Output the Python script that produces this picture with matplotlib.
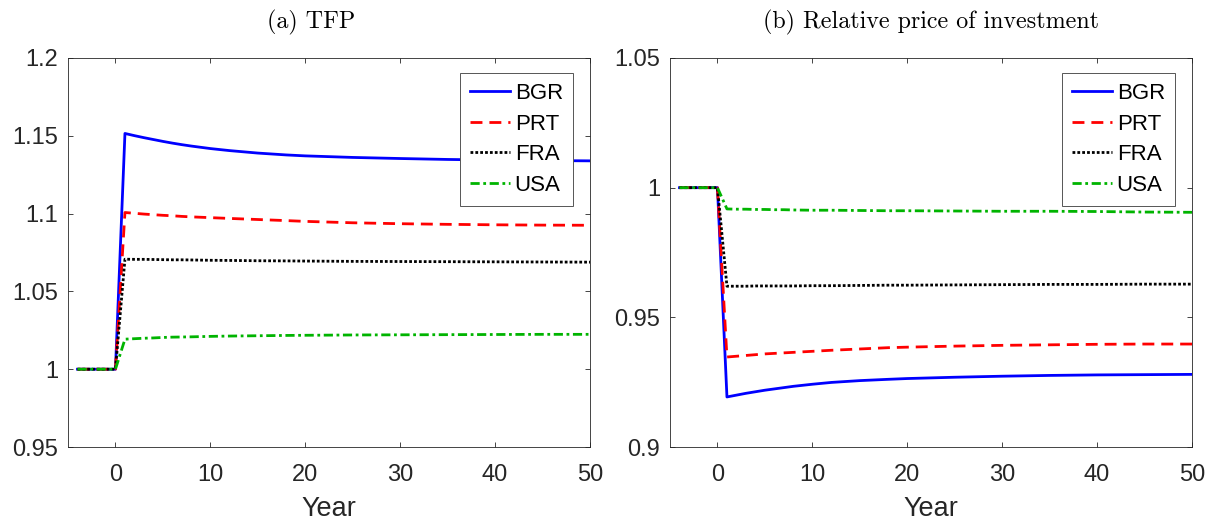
import matplotlib
matplotlib.use("Agg")
import matplotlib.pyplot as plt

# years on the horizontal axis (shock hits in year 1)
years = [-4, -3, -2, -1, 0, 1, 2, 3, 4, 5, 6, 7, 8, 10, 12, 15, 18, 20, 25, 30, 35, 40, 45, 50]
pre = [1.0, 1.0, 1.0, 1.0, 1.0]

# (a) TFP
tfp_bgr = pre + [1.1515, 1.1501, 1.1488, 1.1476, 1.1464, 1.1453, 1.1443, 1.1434, 1.1418, 1.1405,
                 1.1389, 1.1377, 1.1371, 1.1361, 1.1354, 1.1348, 1.1344, 1.1341, 1.1339]
tfp_prt = pre + [1.1007, 1.1002, 1.0997, 1.0993, 1.0989, 1.0986, 1.0982, 1.0979, 1.0974, 1.0969,
                 1.0962, 1.0955, 1.0950, 1.0941, 1.0935, 1.0931, 1.0928, 1.0926, 1.0925]
tfp_fra = pre + [1.0707, 1.0706, 1.0706, 1.0705, 1.0704, 1.0703, 1.0703, 1.0702, 1.0700, 1.0699,
                 1.0697, 1.0696, 1.0695, 1.0693, 1.0692, 1.0691, 1.0690, 1.0689, 1.0688]
tfp_usa = pre + [1.0193, 1.0196, 1.0199, 1.0201, 1.0204, 1.0206, 1.0207, 1.0208, 1.0211, 1.0213,
                 1.0215, 1.0217, 1.0218, 1.0220, 1.0221, 1.0222, 1.0223, 1.0224, 1.0224]

# (b) relative price of investment
rpi_bgr = pre + [0.9193, 0.9200, 0.9207, 0.9213, 0.9219, 0.9224, 0.9229, 0.9234, 0.9242, 0.9249,
                 0.9256, 0.9261, 0.9264, 0.9269, 0.9273, 0.9276, 0.9278, 0.9279, 0.9280]
rpi_prt = pre + [0.9347, 0.9350, 0.9353, 0.9356, 0.9359, 0.9361, 0.9363, 0.9365, 0.9369, 0.9373,
                 0.9378, 0.9383, 0.9385, 0.9389, 0.9392, 0.9394, 0.9396, 0.9397, 0.9397]
rpi_fra = pre + [0.9620, 0.9620, 0.9620, 0.9621, 0.9621, 0.9621, 0.9621, 0.9621, 0.9622, 0.9622,
                 0.9623, 0.9624, 0.9624, 0.9625, 0.9626, 0.9627, 0.9627, 0.9628, 0.9628]
rpi_usa = pre + [0.9918, 0.9917, 0.9917, 0.9916, 0.9916, 0.9915, 0.9915, 0.9914, 0.9913, 0.9913,
                 0.9912, 0.9911, 0.9911, 0.9910, 0.9909, 0.9909, 0.9908, 0.9906, 0.9905]

countries = ["BGR", "PRT", "FRA", "USA"]
colors = ["#0000ff", "#ff0000", "#000000", "#00b400"]
dashes = [(), (4.3, 2.5), (1.0, 0.75), (3.3, 1.3, 1.0, 1.3)]

xticks = [0, 10, 20, 30, 40, 50]
yticks_a = [0.95, 1.0, 1.05, 1.1, 1.15, 1.2]
ytick_labels_a = ["0.95", "1", "1.05", "1.1", "1.15", "1.2"]
yticks_b = [0.9, 0.95, 1.0, 1.05]
ytick_labels_b = ["0.9", "0.95", "1", "1.05"]

plt.rcParams["font.family"] = ["Liberation Sans", "DejaVu Sans"]
axcol = "#262626"

fig = plt.figure(figsize=(12.16, 5.25), dpi=100)
ax1 = fig.add_axes([68 / 1216, 1 - 447 / 525, 522 / 1216, 389 / 525])
ax2 = fig.add_axes([670 / 1216, 1 - 447 / 525, 522 / 1216, 389 / 525])

panels = [
    (ax1, [tfp_bgr, tfp_prt, tfp_fra, tfp_usa], "(a) TFP", (0.95, 1.2), yticks_a, ytick_labels_a, 0.466),
    (ax2, [rpi_bgr, rpi_prt, rpi_fra, rpi_usa], "(b) Relative price of investment", (0.9, 1.05), yticks_b, ytick_labels_b, 0.5),
]

for ax, series, title, ylim, yt, ytl, tx in panels:
    for vals, name, c, d in zip(series, countries, colors, dashes):
        ln, = ax.plot(years, vals, color=c, lw=2.0, label=name)
        if d:
            ln.set_dashes(d)
    ax.set_xlim(-5, 50)
    ax.set_ylim(*ylim)
    ax.set_xticks(xticks)
    ax.set_xticklabels([str(t) for t in xticks])
    ax.set_yticks(yt)
    ax.set_yticklabels(ytl)
    ax.tick_params(direction="in", top=True, right=True, length=3.6, width=0.6,
                   colors=axcol, labelsize=17)
    ax.tick_params(axis="x", pad=12.5)
    ax.tick_params(axis="y", pad=7)
    for s in ax.spines.values():
        s.set_color(axcol)
        s.set_linewidth(0.6)
    ax.set_xlabel("Year", fontsize=19.5, color=axcol, labelpad=7)
    ax.set_title(title, fontsize=17.3, family="cmr10", x=tx, pad=21)
    leg = ax.legend(loc="upper right", bbox_to_anchor=(0.9674, 0.9614), borderaxespad=0,
                    fontsize=16, handlelength=1.8, handletextpad=0.2, labelspacing=0.43,
                    borderpad=0.45, fancybox=False, framealpha=1)
    leg.get_frame().set_edgecolor("#555555")
    leg.get_frame().set_linewidth(0.7)

fig.savefig("out.png", dpi=100)
